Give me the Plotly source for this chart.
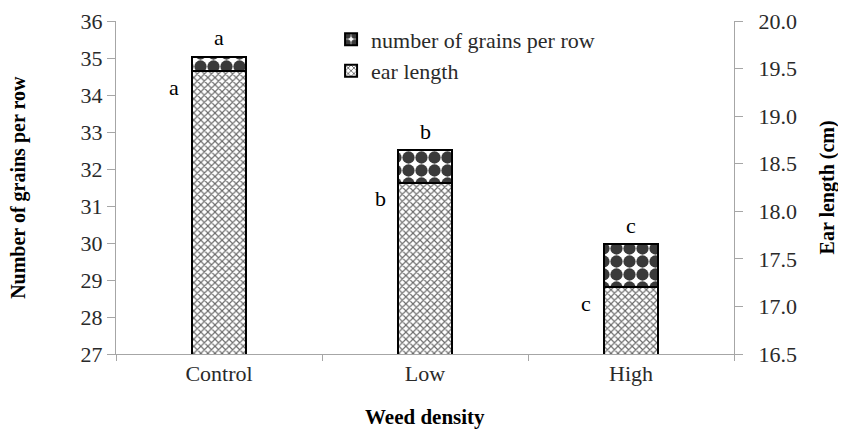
import plotly.graph_objects as go

# hodnoty odcitane z obrazka
kategorie = ['Control', 'Low', 'High']
zrna = [35.03, 32.51, 29.97]          # number of grains per row (lava os)
dlzka = [19.47, 18.30, 17.20]         # ear length, cm (prava os)
pismena_zrna = ['a', 'b', 'c']
pismena_dlzka = ['a', 'b', 'c']

font_serif = 'Liberation Serif'
seda = '#a6a6a6'

fig = go.Figure()

fig.add_trace(go.Bar(
    x=kategorie, y=zrna, name='number of grains per row', width=0.26,
    marker=dict(color='white', line=dict(color='black', width=2),
                pattern=dict(shape='.', fgcolor='#3a3a3a', bgcolor='white',
                             size=13, solidity=0.7, fillmode='replace')),
    yaxis='y'))

fig.add_trace(go.Bar(
    x=kategorie, y=dlzka, name='ear length', width=0.26,
    marker=dict(color='white', line=dict(color='black', width=2),
                pattern=dict(shape='x', fgcolor='#6a6a6a', bgcolor='white',
                             size=5, solidity=0.4, fillmode='replace')),
    yaxis='y2'))

# pismena nad stlpcami a vlavo od nich
for kat, v, p in zip(kategorie, zrna, pismena_zrna):
    fig.add_annotation(x=kat, y=v, xref='x', yref='y', text=p, showarrow=False,
                       yshift=19, font=dict(family=font_serif, size=22, color='black'))
for kat, v, p in zip(kategorie, dlzka, pismena_dlzka):
    fig.add_annotation(x=kat, y=v, xref='x', yref='y2', text=p, showarrow=False,
                       xshift=-45, yshift=-16, font=dict(family=font_serif, size=22, color='black'))

# nazvy osi
fig.add_annotation(x=-0.158, y=0.5, xref='paper', yref='paper', xanchor='center', yanchor='middle',
                   text='<b>Number of grains per row</b>', textangle=-90, showarrow=False,
                   font=dict(family=font_serif, size=20, color='black'))
fig.add_annotation(x=1.152, y=0.5, xref='paper', yref='paper', xanchor='center', yanchor='middle',
                   text='<b>Ear length (cm)</b>', textangle=-90, showarrow=False,
                   font=dict(family=font_serif, size=20, color='black'))
fig.add_annotation(x=0.5, y=-0.19, xref='paper', yref='paper', xanchor='center', yanchor='middle',
                   text='<b>Weed density</b>', showarrow=False,
                   font=dict(family=font_serif, size=21, color='black'))

os_styl = dict(showgrid=False, zeroline=False, showline=True, linecolor=seda, linewidth=1,
               ticks='outside', tickcolor=seda, ticklen=8,
               tickfont=dict(family=font_serif, size=22, color='#2a2a2a'))

fig.update_layout(
    width=846, height=432,
    font=dict(family=font_serif, size=22, color='#2a2a2a'),
    margin=dict(l=108, r=120, t=13, b=86, autoexpand=False),
    plot_bgcolor='white', paper_bgcolor='white',
    barmode='overlay', bargap=0,
    showlegend=True,
    legend=dict(x=0.348, y=1.008, xanchor='left', yanchor='top', bgcolor='rgba(0,0,0,0)',
                font=dict(family=font_serif, size=22, color='#2a2a2a'),
                itemsizing='constant'),
    xaxis=dict(**os_styl, tickson='boundaries', type='category'),
    yaxis=dict(**os_styl, range=[27, 36], dtick=1),
    yaxis2=dict(**os_styl, range=[16.5, 20.0], dtick=0.5, tickformat='.1f',
                overlaying='y', side='right', tickprefix='\u00a0\u00a0'),
)
fig.update_xaxes(ticklen=6)

fig.write_html("out.html")
